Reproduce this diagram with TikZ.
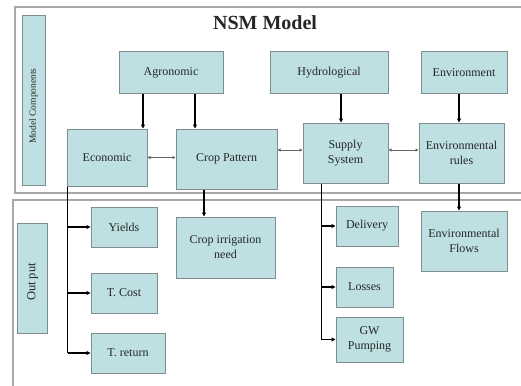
\documentclass[tikz,border=0pt]{standalone}
\usepackage{fontspec}
\setmainfont{Liberation Serif}
\usetikzlibrary{arrows.meta,calc}
\definecolor{boxfill}{HTML}{BEE0E3}
\definecolor{boxline}{HTML}{7E8E90}
\definecolor{frameline}{HTML}{A8A8A8}
\definecolor{txt}{HTML}{262626}
\begin{document}
\begin{tikzpicture}[x=1pt,y=-1pt,
  box/.style={draw=boxline,line width=1pt,fill=boxfill,inner sep=2pt,align=center,
    text=txt,font=\fontsize{12}{15}\selectfont},
  flow/.style={line width=1.4pt,black,-{Triangle[length=4pt,width=4pt]}},
  branch/.style={line width=1.4pt,black},
  link/.style={line width=0.8pt,draw=black!60,{Triangle[length=3pt,width=3pt]}-{Triangle[length=3pt,width=3pt]}},
  frame/.style={draw=frameline,line width=1.5pt}]
\useasboundingbox (0,0) rectangle (521,385);
\fill[white] (0,0) rectangle (521,385);
% frames
\draw[frame] (522,7) -- (15,7) -- (15,193) -- (522,193);
\draw[frame] (522,200) -- (13,200) -- (13,390);
% title
\node[font=\fontsize{20}{24}\selectfont\bfseries,text=txt] (title) at (265,23) {NSM Model};
% side labels
\node[box,minimum width=23pt,minimum height=169pt,inner sep=0pt] (mc) at (33.5,100.5) {};
\node[rotate=90,text=txt,font=\fontsize{9.5}{11}\selectfont] (mct) at (33.5,106) {Model Components};
\node[box,minimum width=30pt,minimum height=110pt,inner sep=0pt] (out) at (32,278) {};
\node[rotate=90,text=txt,font=\fontsize{12.5}{14}\selectfont] (outt) at (32.5,282) {Out put};
% top row
\node[box,minimum width=104pt,minimum height=42pt] (agro) at (171,73) {Agronomic};
\node[box,minimum width=118pt,minimum height=42pt] (hydro) at (329,73) {Hydrological};
\node[box,minimum width=86pt,minimum height=42pt] (envi) at (464,73) {Environment};
% second row
\node[box,minimum width=80pt,minimum height=57pt] (econ) at (107,157.5) {Economic};
\node[box,minimum width=101pt,minimum height=60pt] (crop) at (226.5,159) {Crop Pattern};
\node[box,minimum width=85pt,minimum height=60pt] (supply) at (345.5,153) {Supply\\System};
\node[box,minimum width=85pt,minimum height=60pt] (envr) at (461.5,153) {Environmental\\rules};
% outputs
\node[box,minimum width=66pt,minimum height=40pt] (yields) at (124,227) {Yields};
\node[box,minimum width=66pt,minimum height=40pt] (tcost) at (124,293) {T. Cost};
\node[box,minimum width=74pt,minimum height=40pt] (tret) at (128,353) {T. return};
\node[box,minimum width=99pt,minimum height=61pt] (cin) at (225.5,247.5) {Crop irrigation\\need};
\node[box,minimum width=62pt,minimum height=40pt] (deliv) at (367,226) {Delivery};
\node[box,minimum width=57pt,minimum height=40pt] (loss) at (364.5,287) {Losses};
\node[box,minimum width=67pt,minimum height=45pt] (gw) at (369.5,339.5) {GW\\Pumping};
\node[box,minimum width=86pt,minimum height=60pt] (envf) at (464,241) {Environmental\\Flows};
% top-down arrows
\draw[flow] ([xshift=-28pt]agro.south) -- ([xshift=-28pt]agro.south |- econ.north);
\draw[flow] ([xshift=24pt]agro.south) -- ([xshift=24pt]agro.south |- crop.north);
\draw[flow] ([xshift=12pt]hydro.south) -- ([xshift=12pt]hydro.south |- supply.north);
\draw[flow] ([xshift=-5pt]envi.south) -- ([xshift=-5pt]envi.south |- envr.north);
% two-way links
\draw[link] (econ.east) -- (econ.east -| crop.west);
\draw[link] ([yshift=3pt]crop.east |- supply.west) -- ([yshift=3pt]supply.west);
\draw[link] ([yshift=3pt]supply.east) -- ([yshift=3pt]supply.east -| envr.west);
% downward
\draw[flow] ([xshift=-22.5pt]crop.south) -- ([xshift=-22.5pt]crop.south |- cin.north);
\draw[flow] ([xshift=-2.5pt]envr.south) -- ([xshift=-2.5pt]envr.south |- envf.north);
% economic branches
\coordinate (ecx) at ([xshift=1pt]econ.south west);
\draw[branch] (ecx) -- (ecx |- tret.west);
\draw[flow] (ecx |- yields.west) -- (yields.west);
\draw[flow] (ecx |- tcost.west) -- (tcost.west);
\draw[flow] (ecx |- tret.west) -- (tret.west);
% supply branches
\coordinate (spx) at ([xshift=19pt]supply.south west);
\draw[branch] (spx) -- (spx |- gw.west);
\draw[flow] (spx |- deliv.west) -- (deliv.west);
\draw[flow] (spx |- loss.west) -- (loss.west);
\draw[flow] (spx |- gw.west) -- (gw.west);
\end{tikzpicture}
\end{document}
